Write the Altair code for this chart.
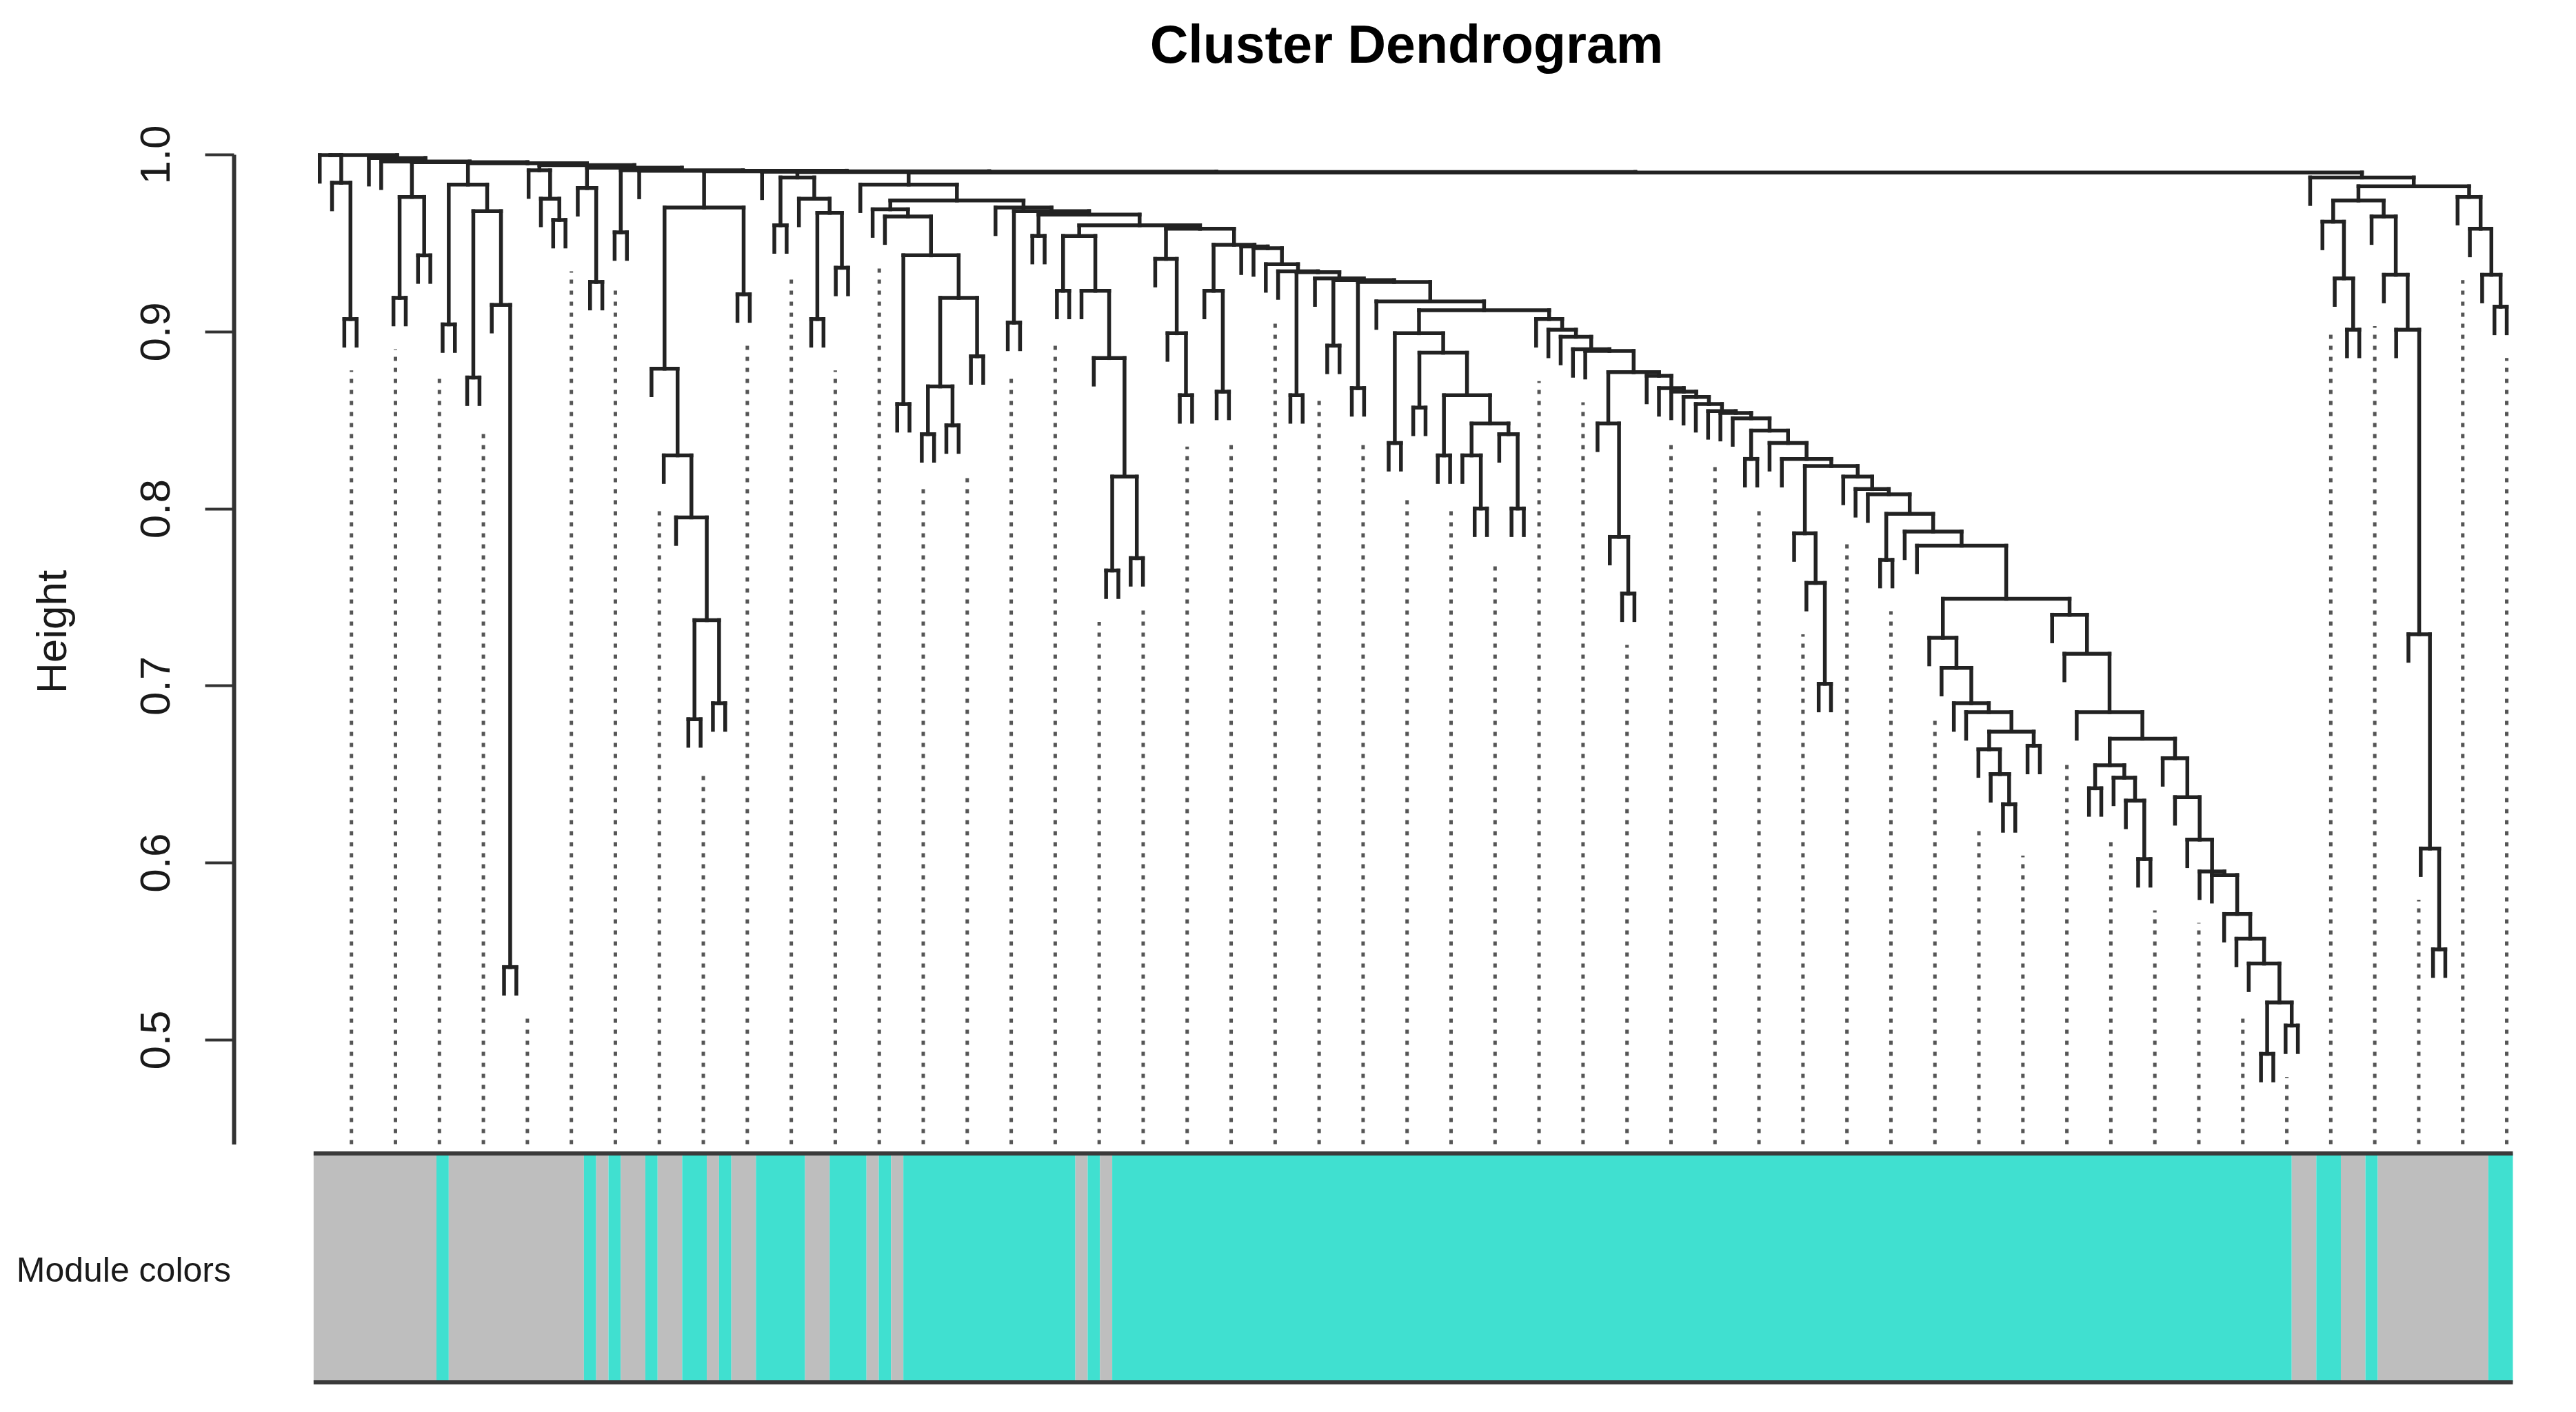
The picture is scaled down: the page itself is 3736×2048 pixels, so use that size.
import math
import altair as alt
import pandas as pd

# ------------------------------------------------------------------
# Dendrogram.  A node is [merge height, left, right];
# L is a single leaf (gene).  F(h) is a pair of leaves merged at height h.
# ------------------------------------------------------------------
L = 0


def F(h):
    return [h, L, L]


def chain(heights, items):
    """right-nested staircase: items[k] joins the rest at heights[k]"""
    node = items[-1]
    for h, it in zip(reversed(heights), reversed(items[:-1])):
        node = [h, it, node]
    return node


# left block
X1 = [0.984, L, F(0.907)]
X2 = [0.976, F(0.919), F(0.943)]
X3 = [0.983, F(0.904), [0.968, F(0.874), [0.915, L, F(0.541)]]]
X4 = [0.991, L, [0.975, L, F(0.963)]]
X5 = [0.981, L, F(0.928)]
I8 = F(0.956)
SUB_A = [0.879, L, [0.830, L, [0.795, L, [0.737, F(0.681), F(0.690)]]]]
Y = [0.970, SUB_A, F(0.921)]
Z1 = [0.975, L, [0.967, F(0.907), F(0.936)]]
I12 = [0.987, F(0.960), Z1]

# middle block
N3 = [0.969, L, [0.965, L, [0.943, F(0.859), [0.919, [0.869, F(0.842), F(0.847)], F(0.886)]]]]
M2 = [0.954, F(0.923), [0.923, L, [0.885, L, [0.818, F(0.765), F(0.772)]]]]
K1 = [0.941, L, [0.899, L, F(0.864)]]
M3A = [0.923, L, F(0.866)]
P300 = [0.899, F(0.837), [0.888, F(0.857), [0.864, F(0.830),
        [0.848, [0.830, L, F(0.800)], [0.842, L, F(0.800)]]]]]
V1 = [0.848, L, [0.784, L, F(0.752)]]
V2 = [0.786, L, [0.758, L, F(0.701)]]

# deep turquoise block
B1 = [0.727, L, [0.710, L, [0.690, L, [0.685, L, [0.674, [0.664, L, [0.650, L, F(0.633)]], F(0.666)]]]]]
A2 = [0.595, L, [0.593, L, [0.571, L, [0.557, L, [0.543, L, [0.521, F(0.492), F(0.508)]]]]]]
B2A = [0.655, F(0.642), [0.648, L, [0.635, L, F(0.602)]]]
B2B = [0.659, L, [0.637, L, [0.613, L, A2]]]
B2 = [0.740, L, [0.718, L, [0.685, L, [0.670, B2A, B2B]]]]
BIG = [0.749, B1, B2]

# right block
RC2 = [0.974, [0.962, L, [0.930, L, F(0.901)]],
       [0.965, L, [0.932, L, [0.901, L, [0.729, L, [0.608, L, F(0.551)]]]]]]
RC3 = [0.976, L, [0.958, L, [0.932, L, F(0.914)]]]
RC = [0.987, L, [0.982, RC2, RC3]]

STAIR_H = [0.938, 0.934, 0.9335, 0.930, 0.929, 0.928, 0.917, 0.912, 0.907, 0.901,
           0.897, 0.890, 0.889, 0.877, 0.875, 0.868, 0.866, 0.863, 0.859, 0.855,
           0.854, 0.851, 0.844, 0.837, 0.828, 0.824, 0.818, 0.811, 0.808, 0.797,
           0.787, 0.779]
STAIR_ITEMS = [L, L, F(0.864), L, F(0.892), F(0.868), L, P300, L, L,
               L, L, L, V1, L, L, L, L, L, L,
               L, L, F(0.828), L, L, V2, L, L, L, F(0.771),
               L, L, BIG]

M3 = chain([0.949, 0.948, 0.947], [M3A, L, L, chain(STAIR_H, STAIR_ITEMS)])
M1 = [0.960, M2, [0.958, K1, M3]]
N4 = chain([0.970, 0.968, 0.966], [L, F(0.905), F(0.954), M1])
N1 = [0.983, L, [0.974, N3, N4]]

TOP_H = [0.998, 0.996, 0.9956, 0.995, 0.994, 0.9925, 0.991, 0.9908, 0.9905,
         0.9903, 0.9901, 0.9898]
TOP_ITEMS = [L, L, X2, X3, X4, X5, I8, L, Y, L, I12, N1, RC]
TREE = [0.9996, [0.9996, L, X1], chain(TOP_H, TOP_ITEMS)]

# module colours, left to right, as runs of leaves
MODULE_RUN_COLOURS = ["grey", "turquoise"] * 15
MODULE_RUN_LENGTHS = [10, 1, 11, 1, 1, 1, 2, 1, 2, 2, 1, 1, 2, 4, 2, 3, 1, 1, 1, 14,
                      1, 1, 1, 96, 2, 2, 2, 1, 9, 2]
MODULE_HEX = {"grey": "#BEBEBE", "turquoise": "#40E0D0"}

Y_TICKS = [0.5, 0.6, 0.7, 0.8, 0.9, 1.0]
TITLE = "Cluster Dendrogram"
ROW_LABEL = "Module colors"

# ------------------------------------------------------------------
HANG = 0.015          # leaves hang below their merge
GUIDE_HANG = 0.029    # dotted guides start below the leaf
GUIDE_COUNT = 50
YMIN = 0.441

segs = []
leaf_parent = []


def layout(node):
    h, a, b = node
    xs = []
    for ch in (a, b):
        if isinstance(ch, list):
            cx, ctop = layout(ch)
        else:
            cx = len(leaf_parent)
            leaf_parent.append(h)
            ctop = h - HANG
        segs.append({"x": cx, "x2": cx, "y": h, "y2": ctop})
        xs.append(cx)
    segs.append({"x": xs[0], "x2": xs[1], "y": h, "y2": h})
    return (xs[0] + xs[1]) / 2.0, h


layout(TREE)
N = len(leaf_parent)
seg_df = pd.DataFrame(segs)

guides = []
for k in range(1, GUIDE_COUNT + 1):
    p = k * N / GUIDE_COUNT
    lo, hi = max(1, math.floor(p)), min(N, math.ceil(p))
    top = min(leaf_parent[lo - 1], leaf_parent[hi - 1]) - GUIDE_HANG
    guides.append({"x": p - 1, "y": YMIN, "y2": max(top, YMIN)})
guide_df = pd.DataFrame(guides)

runs = []
start = 0
for c, n in zip(MODULE_RUN_COLOURS, MODULE_RUN_LENGTHS):
    runs.append({"x": start - 0.5, "x2": start + n - 0.5, "module": c, "fill": MODULE_HEX[c]})
    start += n
run_df = pd.DataFrame(runs)
frame_df = pd.DataFrame({"x": [-0.5], "x2": [N - 0.5]})
label_df = pd.DataFrame({"label": [ROW_LABEL]})
title_df = pd.DataFrame({"label": [TITLE]})

# ------------------------------------------------------------------
W, H = 3350, 1850
x_scale = alt.Scale(domain=[-7.0, 181.0], nice=False, zero=False)
y_scale = alt.Scale(domain=[YMIN, 1.0], range=[1486.5, 51], nice=False, zero=False)
BAR_TOP, BAR_BOTTOM = 1500, 1832
FONT = "Liberation Sans"

y_axis = alt.Axis(values=Y_TICKS, format=".1f", title="Height", grid=False,
                  tickSize=42, tickWidth=4, tickColor="#333333",
                  domainColor="#333333", domainWidth=6,
                  labelFont=FONT, labelFontSize=62, labelColor="#1a1a1a",
                  labelAngle=270, labelAlign="center", labelBaseline="alphabetic",
                  labelPadding=52, labelOverlap=False, labelFlush=False,
                  titleFont=FONT, titleFontSize=62, titleFontWeight="normal",
                  titleColor="#1a1a1a", titleAngle=270, titleAlign="center",
                  titleBaseline="alphabetic", titleX=-244, titleY=743)

guide_layer = alt.Chart(guide_df).mark_rule(
    color="#555555", strokeWidth=5, strokeDash=[6, 10]
).encode(
    x=alt.X("x:Q", scale=x_scale, axis=None),
    y=alt.Y("y:Q", scale=y_scale, axis=y_axis),
    y2="y2:Q",
)

dendro_layer = alt.Chart(seg_df).mark_rule(
    color="#222222", strokeWidth=5.5, strokeCap="square"
).encode(
    x=alt.X("x:Q", scale=x_scale, axis=None),
    x2="x2:Q",
    y=alt.Y("y:Q", scale=y_scale, axis=y_axis),
    y2="y2:Q",
)

bar_layer = alt.Chart(run_df).mark_rect().encode(
    x=alt.X("x:Q", scale=x_scale, axis=None),
    x2="x2:Q",
    y=alt.value(BAR_TOP),
    y2=alt.value(BAR_BOTTOM),
    color=alt.Color("fill:N", scale=None),
)

frame_top = alt.Chart(frame_df).mark_rule(color="#3a3a3a", strokeWidth=6).encode(
    x=alt.X("x:Q", scale=x_scale, axis=None), x2="x2:Q", y=alt.value(BAR_TOP))
frame_bottom = alt.Chart(frame_df).mark_rule(color="#3a3a3a", strokeWidth=6).encode(
    x=alt.X("x:Q", scale=x_scale, axis=None), x2="x2:Q", y=alt.value(BAR_BOTTOM))

label_layer = alt.Chart(label_df).mark_text(
    align="right", baseline="middle", font=FONT, fontSize=50, color="#1a1a1a"
).encode(x=alt.value(-4), y=alt.value(1671), text="label:N")

title_layer = alt.Chart(title_df).mark_text(
    align="center", baseline="alphabetic", font=FONT, fontSize=77,
    fontWeight="bold", color="#000000"
).encode(x=alt.value(1701), y=alt.value(-82), text="label:N")

chart = alt.layer(
    guide_layer, dendro_layer, bar_layer, frame_top, frame_bottom, label_layer, title_layer
).properties(
    width=W,
    height=H,
    padding={"left": 331, "top": 165, "right": 0, "bottom": 0},
    autosize=alt.AutoSizeParams(type="none"),
    background="white",
).configure_view(stroke=None)

chart.save("out.html", embed_options={"renderer": "svg", "actions": False})
